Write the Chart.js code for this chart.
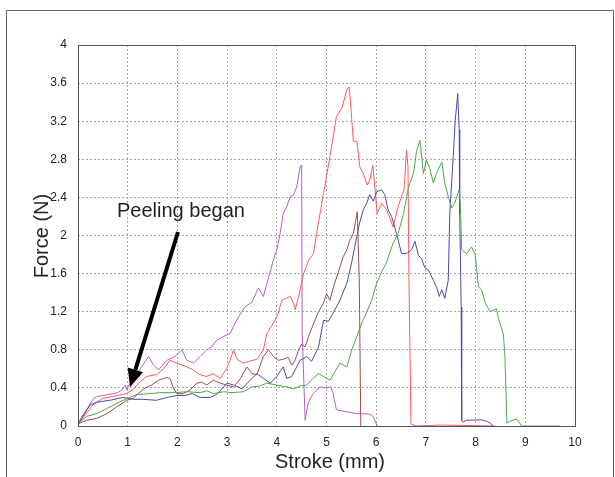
<!DOCTYPE html>
<html lang="en">
<head>
  <meta charset="UTF-8">
  <title>Peeling force vs stroke</title>
  <script src="https://cdn.jsdelivr.net/npm/chart.js"></script>
  <style>
    html, body { margin: 0; padding: 0; background: #fff; }
    #wrap { width: 615px; height: 477px; }
  </style>
</head>
<body>
  <div id="wrap"><canvas id="peelChart" width="615" height="477"></canvas></div>

  <script>
    // stroke (mm), force (N) pairs
    const purpleRun = [[0,0.02],[0.1,0.12],[0.21,0.2],[0.3,0.28],[0.38,0.31],[0.51,0.32],[0.6,0.33],[0.71,0.34],[0.8,0.35],[0.88,0.38],[0.95,0.43],[0.98,0.38],[1.05,0.45],[1.15,0.52],[1.28,0.62],[1.42,0.73],[1.52,0.64],[1.62,0.59],[1.79,0.69],[1.95,0.73],[2.09,0.8],[2.19,0.69],[2.32,0.66],[2.46,0.73],[2.59,0.8],[2.69,0.83],[2.79,0.9],[2.93,0.94],[3.06,0.97],[3.16,1.08],[3.26,1.17],[3.36,1.25],[3.5,1.3],[3.63,1.45],[3.73,1.36],[3.83,1.55],[3.93,1.74],[4.0,1.85],[4.06,2.0],[4.13,2.23],[4.2,2.3],[4.27,2.41],[4.33,2.42],[4.4,2.51],[4.47,2.72],[4.5,2.74],[4.51,1.0],[4.57,0.06],[4.63,0.24],[4.73,0.34],[4.87,0.41],[5.0,0.4],[5.08,0.41],[5.13,0.35],[5.2,0.17],[5.41,0.15],[5.61,0.13],[5.87,0.125],[5.94,0.1],[6.02,0]];
    const redRun = [[0,0.02],[0.15,0.12],[0.3,0.22],[0.5,0.29],[0.7,0.31],[0.97,0.34],[1.1,0.38],[1.24,0.46],[1.38,0.52],[1.58,0.54],[1.72,0.6],[1.85,0.69],[1.99,0.66],[2.1,0.64],[2.28,0.6],[2.45,0.54],[2.58,0.52],[2.72,0.55],[2.86,0.5],[2.99,0.6],[3.06,0.69],[3.13,0.8],[3.2,0.7],[3.33,0.66],[3.45,0.68],[3.6,0.7],[3.73,0.8],[3.8,0.97],[3.93,1.08],[4.03,1.18],[4.1,1.32],[4.27,1.36],[4.33,1.3],[4.37,1.22],[4.44,1.36],[4.54,1.6],[4.64,1.74],[4.74,1.81],[4.8,2.02],[4.94,2.44],[5.07,2.83],[5.2,3.25],[5.31,3.34],[5.41,3.53],[5.45,3.56],[5.47,3.49],[5.54,2.99],[5.61,2.99],[5.67,2.72],[5.74,2.65],[5.82,2.53],[5.87,2.58],[5.93,2.74],[5.96,2.58],[6.02,2.23],[6.11,2.34],[6.21,2.27],[6.34,2.09],[6.44,2.3],[6.51,2.41],[6.56,2.48],[6.61,2.9],[6.64,2.72],[6.66,1.5],[6.7,0.02],[6.8,0],[7.3,0.01],[8.4,0]];
    const brownRun = [[0,0.02],[0.17,0.06],[0.38,0.08],[0.58,0.13],[0.78,0.2],[0.98,0.27],[1.11,0.29],[1.21,0.34],[1.35,0.4],[1.48,0.43],[1.62,0.48],[1.79,0.51],[1.85,0.5],[1.92,0.4],[1.99,0.34],[2.12,0.34],[2.26,0.38],[2.39,0.45],[2.49,0.46],[2.59,0.43],[2.72,0.48],[2.86,0.45],[2.99,0.43],[3.13,0.41],[3.27,0.5],[3.4,0.62],[3.5,0.55],[3.6,0.54],[3.73,0.73],[3.83,0.8],[3.93,0.73],[4.03,0.69],[4.13,0.7],[4.23,0.72],[4.3,0.64],[4.36,0.68],[4.44,0.8],[4.5,0.86],[4.57,0.83],[4.64,0.94],[4.73,1.06],[4.84,1.2],[4.94,1.29],[5.0,1.39],[5.07,1.32],[5.14,1.46],[5.24,1.62],[5.34,1.78],[5.41,1.85],[5.47,1.95],[5.54,2.02],[5.59,2.16],[5.62,2.25],[5.66,1.5],[5.69,0]];
    const blueRun = [[0,0.02],[0.1,0.1],[0.24,0.22],[0.38,0.25],[0.64,0.27],[0.91,0.3],[1.11,0.28],[1.32,0.28],[1.58,0.27],[1.79,0.3],[1.99,0.32],[2.15,0.32],[2.3,0.34],[2.46,0.3],[2.66,0.3],[2.79,0.33],[2.93,0.41],[3.0,0.45],[3.13,0.43],[3.3,0.39],[3.46,0.48],[3.6,0.55],[3.73,0.5],[3.87,0.45],[4.0,0.52],[4.13,0.62],[4.2,0.5],[4.3,0.52],[4.47,0.69],[4.6,0.73],[4.7,0.68],[4.84,0.83],[4.94,1.11],[5.04,1.1],[5.17,1.22],[5.27,1.32],[5.41,1.5],[5.5,1.7],[5.61,1.99],[5.67,2.14],[5.74,2.27],[5.81,2.34],[5.87,2.43],[5.94,2.36],[6.01,2.46],[6.11,2.48],[6.17,2.43],[6.24,2.27],[6.31,2.2],[6.41,2.02],[6.51,1.81],[6.61,1.81],[6.71,1.85],[6.78,1.94],[6.85,1.79],[6.91,1.76],[6.98,1.66],[7.05,1.64],[7.15,1.53],[7.22,1.45],[7.27,1.36],[7.32,1.43],[7.38,1.34],[7.45,1.53],[7.48,2.23],[7.55,2.83],[7.59,3.21],[7.62,3.37],[7.64,3.49],[7.67,3.11],[7.68,2.23],[7.71,1.25],[7.72,0.06],[7.75,0.04],[7.81,0.06],[8.12,0.065],[8.22,0.05],[8.3,0.03],[8.35,0]];
    const greenRun = [[0,0.02],[0.17,0.1],[0.38,0.13],[0.64,0.2],[0.91,0.27],[1.18,0.33],[1.45,0.34],[1.65,0.35],[1.95,0.35],[2.19,0.36],[2.46,0.35],[2.59,0.37],[2.72,0.34],[2.93,0.36],[3.1,0.35],[3.33,0.36],[3.5,0.41],[3.66,0.42],[3.8,0.45],[4.0,0.43],[4.2,0.41],[4.34,0.39],[4.47,0.42],[4.6,0.43],[4.73,0.5],[4.84,0.55],[4.94,0.52],[5.07,0.48],[5.17,0.57],[5.27,0.66],[5.41,0.62],[5.51,0.8],[5.61,0.94],[5.71,1.08],[5.81,1.2],[5.91,1.32],[6.01,1.5],[6.11,1.62],[6.21,1.72],[6.34,1.92],[6.44,2.02],[6.55,2.23],[6.65,2.51],[6.75,2.65],[6.81,2.88],[6.88,3.0],[6.95,2.65],[7.01,2.79],[7.08,2.7],[7.15,2.55],[7.21,2.65],[7.32,2.77],[7.38,2.55],[7.45,2.41],[7.52,2.29],[7.58,2.34],[7.67,2.48],[7.7,2.23],[7.72,1.85],[7.82,1.81],[7.92,1.88],[7.99,1.8],[8.06,1.46],[8.12,1.43],[8.19,1.3],[8.29,1.2],[8.42,1.23],[8.46,1.13],[8.56,0.96],[8.59,0.73],[8.63,0.03],[8.69,0.05],[8.83,0.075],[8.93,0],[9.7,0]];

    const xTicks = [0, 1, 2, 3, 4, 5, 6, 7, 8, 9, 10];
    const yTicks = [0, 0.4, 0.8, 1.2, 1.6, 2, 2.4, 2.8, 3.2, 3.6, 4];

    const tickFont = { family: "'Liberation Sans Narrow', 'Arial Narrow', 'Liberation Sans', Arial, sans-serif", size: 12 };

    function toPoints(run) {
      return run.map(p => ({ x: p[0], y: p[1] }));
    }

    function line(run, color) {
      return {
        data: toPoints(run),
        borderColor: color,
        borderWidth: 1,
        pointRadius: 0,
        tension: 0,
        fill: false
      };
    }

    // frame, axis titles and the "Peeling began" arrow
    const extras = {
      id: 'extras',
      afterDatasetsDraw(chart) {
        const ctx = chart.ctx;
        const a = chart.chartArea;
        ctx.save();

        // outer figure border
        ctx.strokeStyle = '#666';
        ctx.lineWidth = 1;
        ctx.beginPath();
        ctx.moveTo(6.5, 477);
        ctx.lineTo(6.5, 10.5);
        ctx.lineTo(613.5, 10.5);
        ctx.lineTo(613.5, 477);
        ctx.stroke();

        // plot frame
        ctx.strokeStyle = '#555';
        ctx.strokeRect(Math.round(a.left) + 0.5, Math.round(a.top) + 0.5, Math.round(a.right - a.left), Math.round(a.bottom - a.top));

        // axis titles
        ctx.fillStyle = '#231f20';
        ctx.font = "20px 'Liberation Sans', Arial, sans-serif";
        ctx.textAlign = 'center';
        ctx.textBaseline = 'alphabetic';
        ctx.fillText('Stroke (mm)', 330, 468);

        ctx.save();
        ctx.translate(48, 236);
        ctx.rotate(-Math.PI / 2);
        ctx.font = "20px 'Liberation Sans', Arial, sans-serif";
        ctx.fillText('Force (N)', 0, 0);
        ctx.restore();

        // annotation
        ctx.textAlign = 'left';
        ctx.font = "20px 'Liberation Sans', Arial, sans-serif";
        ctx.fillText('Peeling began', 117, 217);

        const x0 = 178, y0 = 232, x1 = 130, y1 = 387;
        const ang = Math.atan2(y1 - y0, x1 - x0);
        const headLen = 18, headHalf = 8;
        const bx = x1 - headLen * Math.cos(ang), by = y1 - headLen * Math.sin(ang);
        ctx.strokeStyle = '#000';
        ctx.lineWidth = 4;
        ctx.beginPath();
        ctx.moveTo(x0, y0);
        ctx.lineTo(bx, by);
        ctx.stroke();
        ctx.fillStyle = '#000';
        ctx.beginPath();
        ctx.moveTo(x1, y1);
        ctx.lineTo(bx + headHalf * Math.sin(ang), by - headHalf * Math.cos(ang));
        ctx.lineTo(bx - headHalf * Math.sin(ang), by + headHalf * Math.cos(ang));
        ctx.closePath();
        ctx.fill();

        ctx.restore();
      }
    };

    const ctx = document.getElementById('peelChart').getContext('2d');
    new Chart(ctx, {
      type: 'line',
      data: {
        datasets: [
          line(greenRun, '#4aa84a'),
          line(brownRun, '#a24a4a'),
          line(blueRun, '#4a4aa8'),
          line(redRun, '#ff5a5a'),
          line(purpleRun, '#b062c0')
        ]
      },
      options: {
        responsive: false,
        animation: false,
        events: [],
        layout: { padding: { left: 0, right: 40, top: 45, bottom: 0 } },
        plugins: {
          legend: { display: false },
          tooltip: { enabled: false }
        },
        scales: {
          x: {
            type: 'linear',
            min: 0,
            max: 10,
            afterFit(scale) { scale.height = 51; },
            afterBuildTicks(scale) { scale.ticks = xTicks.map(v => ({ value: v })); },
            ticks: { color: '#222', font: tickFont, padding: 9, maxRotation: 0, autoSkip: false },
            grid: { color: '#a8a8a8', lineWidth: 1, drawTicks: false },
            border: { display: false, dash: [2, 2] }
          },
          y: {
            type: 'linear',
            min: 0,
            max: 4,
            afterFit(scale) { scale.width = 78; },
            afterBuildTicks(scale) { scale.ticks = yTicks.map(v => ({ value: v })); },
            ticks: { color: '#222', font: tickFont, padding: 11, autoSkip: false, callback: v => String(Math.round(v * 10) / 10) },
            grid: { color: '#a8a8a8', lineWidth: 1, drawTicks: false },
            border: { display: false, dash: [2, 2] }
          }
        }
      },
      plugins: [extras]
    });
  </script>
</body>
</html>
